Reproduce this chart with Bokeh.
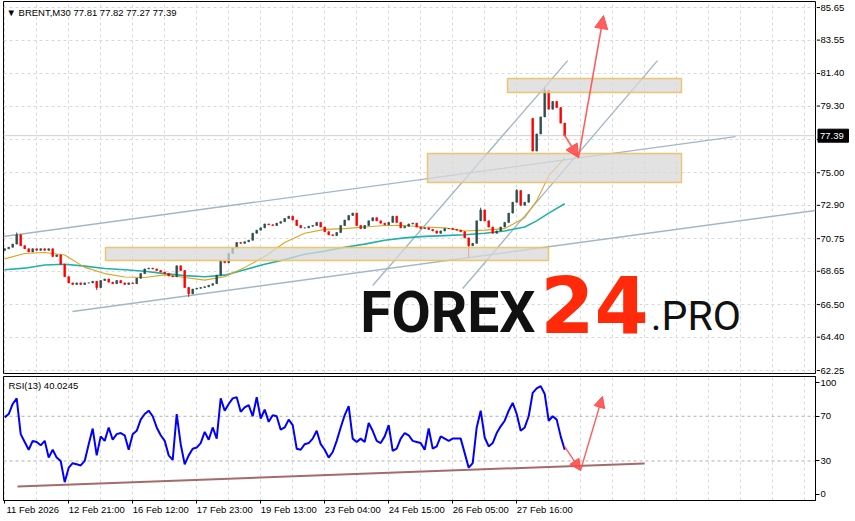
from bokeh.plotting import figure
from bokeh.layouts import column, row
from bokeh.models import (Range1d, FixedTicker, Label, Span, Arrow, NormalHead,
                          ColumnDataSource)
from bokeh.core.properties import value
from bokeh.embed import file_html
from bokeh.resources import INLINE

# ---------------- data ----------------
close = [
    70.1, 70.2, 70.4, 71.0, 70.3, 70.1, 69.9, 70.1, 70.0, 70.1,
    70.0, 70.1, 69.6, 69.7, 69.1, 68.3, 67.9, 67.8, 67.9, 67.8,
    67.9, 67.9, 68.0, 67.6, 68.05, 68.15, 67.95, 67.85, 68.05, 67.9,
    67.8, 67.9, 67.85, 68.2, 68.5, 68.8, 68.85, 68.8, 68.7, 68.6,
    68.5, 68.35, 68.3, 69.0, 68.7, 67.6, 67.2, 67.5, 67.55, 67.6,
    67.65, 67.75, 67.85, 68.4, 69.3, 69.2, 69.8, 70.15, 70.5, 70.45,
    70.55, 70.65, 71.1, 71.3, 71.45, 71.7, 71.65, 71.6, 71.75, 71.85,
    72.05, 72.2, 71.95, 71.6, 71.45, 71.45, 71.55, 71.6, 71.8, 71.5,
    71.2, 71.0, 70.95, 71.15, 71.6, 71.95, 72.25, 72.4, 71.6, 71.4,
    71.6, 71.9, 72.1, 71.9, 71.75, 71.65, 71.8, 72.2, 71.8, 71.45,
    71.55, 71.7, 71.75, 71.5, 71.4, 71.45, 71.35, 71.25, 71.1, 71.25,
    71.4, 71.4, 71.35, 71.3, 71.2, 70.8, 70.3, 70.45, 71.9, 72.6,
    71.9, 71.5, 71.1, 71.25, 71.5, 71.8, 72.4, 73.1, 73.85, 72.9,
    73.1, 73.6, 76.4, 77.5, 78.6, 80.3, 79.1, 79.6, 79.2, 78.2,
    77.39,
]
first_open = 70.0
gap_opens = {132: 78.5}
wick_high = {3: 71.15, 119: 72.75, 128: 73.95, 135: 80.5}
wick_low = {23: 67.45, 46: 67.0, 116: 69.55}

ma_idx = [0, 5, 10, 15, 20, 25, 30, 35, 40, 45, 50, 55, 60, 65, 70, 75, 80,
          85, 90, 95, 100, 105, 110, 115, 120, 125, 130, 133, 136, 140]
ma_fast = [69.45, 69.8, 69.86, 69.7, 68.9, 68.5, 68.28, 68.25, 68.42, 68.25,
           68.08, 68.3, 68.9, 69.6, 70.5, 71.1, 71.35, 71.4, 71.5, 71.6,
           71.6, 71.5, 71.45, 71.25, 71.3, 71.4, 72.1, 73.2, 74.8, 75.95]
ma_slow = [68.75, 68.85, 69.05, 69.1, 68.98, 68.83, 68.75, 68.65, 68.5, 68.37,
           68.3, 68.4, 68.75, 69.1, 69.4, 69.75, 69.95, 70.2, 70.4, 70.65,
           70.8, 70.9, 70.95, 71.0, 71.1, 71.25, 71.5, 71.9, 72.4, 73.0]

rsi = [
    69, 72, 81, 86, 54, 47, 40, 48, 47, 44,
    48, 33, 40, 33, 30, 11, 24, 28, 27, 26,
    30, 45, 59, 35, 52, 48, 60, 49, 54, 55,
    53, 40, 54, 57, 67, 72, 75, 70, 60, 53,
    48, 35, 31, 72, 45, 27, 35, 41, 42, 46,
    56, 49, 60, 50, 86, 75, 81, 86, 87, 74,
    78, 80, 70, 87, 68, 76, 65, 71, 70, 58,
    60, 67, 62, 41, 40, 45, 46, 50, 57, 45,
    40, 33, 38, 48, 60, 71, 79, 50, 47, 50,
    47, 64, 57, 48, 46, 52, 62, 39, 41, 50,
    55, 53, 48, 47, 46, 40, 59, 41, 43, 52,
    50, 48, 50, 50, 50, 37, 24, 28, 60, 75,
    51, 43, 46, 55, 61, 66, 75, 82, 72, 57,
    60, 70, 91, 95, 97, 90, 66, 70, 67, 52,
    40.02,
]

time_idx = [0, 16, 32, 48, 64, 80, 96, 112, 128]
time_labels = ["11 Feb 2026", "12 Feb 21:00", "16 Feb 12:00", "17 Feb 23:00",
               "19 Feb 13:00", "23 Feb 04:00", "24 Feb 15:00", "26 Feb 05:00",
               "27 Feb 16:00"]
grid_idx = list(range(0, 203, 8))
price_ticks = [62.25, 64.40, 66.50, 68.65, 70.75, 72.90, 75.00, 77.15,
               79.30, 81.40, 83.55, 85.65]
rsi_ticks = [0, 30, 70, 100]
rsi_levels = [30, 70]
last_price = 77.39
quote_header = "\u25BC BRENT,M30  77.81 77.82 77.27 77.39"
rsi_header = "RSI(13) 40.0245"

# drawn objects: zones, trend lines, arrows (bar index / price)
zone_left = [125.7, 105.7, 25.2]
zone_right = [169.2, 169.2, 135.95]
zone_bottom = [80.17, 74.37, 69.34]
zone_top = [81.07, 76.24, 70.18]

chan_x0 = [-0.3, 16.95, 92.0, 114.5]
chan_y0 = [70.89, 66.06, 67.73, 67.54]
chan_x1 = [182.7, 202.7, 140.75, 163.2]
chan_y1 = [77.33, 72.57, 82.23, 82.23]

price_arrows = [(139.7, 77.53, 143.45, 75.98), (143.45, 75.98, 149.7, 85.13)]
rsi_trend = (3.2, 7.2, 159.95, 27.8)
rsi_arrows = [(139.95, 43.0, 143.95, 21.5), (143.95, 21.5, 149.45, 87.7)]

# ---------------- derived ----------------
n = len(close)
idx = list(range(n))
opens = [first_open] + close[:-1]
for k, v in gap_opens.items():
    opens[k] = v
body_top = [max(o, c) for o, c in zip(opens, close)]
body_bot = [min(o, c) for o, c in zip(opens, close)]
colors = ["#2F4F4F" if c >= o else "#FF0000" for o, c in zip(opens, close)]
highs = [wick_high.get(i, body_top[i]) for i in idx]
lows = [wick_low.get(i, body_bot[i]) for i in idx]

FONT = "Liberation Sans"
FS = "9.5px"
W = 812
PH = 372                      # price frame height (px)
X0, X1 = -0.3, 202.7
Y0, Y1 = 62.06, 86.04
PX_PER_UNIT = PH / (Y1 - Y0)
RED = "#FF4D4D"
LABEL_SHIFT = 7   # bars from a time tick to the centre of its left-aligned label

# ---------------- price panel ----------------
p = figure(frame_width=W, frame_height=PH, x_range=Range1d(X0, X1),
           y_range=Range1d(Y0, Y1), x_axis_location=None,
           y_axis_location=None, toolbar_location=None, output_backend="svg",
           min_border_left=3, min_border_right=1, min_border_top=1,
           min_border_bottom=3, background_fill_color="white",
           border_fill_color="white")
p.outline_line_color = "black"
p.outline_line_alpha = 1.0
p.xgrid.ticker = FixedTicker(ticks=grid_idx)
p.ygrid.ticker = FixedTicker(ticks=price_ticks)
for g in (p.xgrid, p.ygrid):
    g.grid_line_color = "#D9D9D9"
    g.grid_line_dash = "3 3"

p.add_layout(Span(location=last_price, dimension="width", line_color="#CFCFCF",
                  line_width=1, level="underlay"))

p.segment(x0=chan_x0, y0=chan_y0, x1=chan_x1, y1=chan_y1,
          line_color="#A3B6C5", line_width=1.4)
p.line(ma_idx, ma_slow, line_color="#20B2AA", line_width=1.6)
p.line(ma_idx, ma_fast, line_color="#DAA520", line_width=1.1)

src = ColumnDataSource(dict(x=idx, top=body_top, bottom=body_bot, hi=highs,
                            lo=lows, color=colors))
p.segment(x0="x", y0="lo", x1="x", y1="hi", line_color="color", line_width=1,
          source=src)
p.vbar(x="x", top="top", bottom="bottom", width=0.42, fill_color="color",
       line_color="color", line_width=0.7, source=src)

p.quad(left=zone_left, right=zone_right, bottom=zone_bottom, top=zone_top,
       fill_color="#D8D8D8", fill_alpha=0.75, line_color="#F0C060",
       line_width=1.5, line_alpha=0.9)

for (xs, ys, xe, ye) in price_arrows:
    p.add_layout(Arrow(x_start=xs, y_start=ys, x_end=xe, y_end=ye,
                       line_color=RED, line_width=1.6, line_alpha=0.9,
                       end=NormalHead(size=13, fill_color=RED, line_color=RED,
                                      fill_alpha=0.9)))

# watermark (anchors at the vertical centre of the capitals)
p.add_layout(Label(x=132.7, y=66.02, text="FOREX", text_align="right",
                   text_baseline="alphabetic", text_font="Roboto",
                   text_font_style="bold", text_font_size="57px",
                   text_color="#111111"))
p.add_layout(Label(x=147.45, y=66.57, text="24", text_align="center",
                   text_baseline="alphabetic", text_font="DejaVu Sans",
                   text_font_style="bold", text_font_size="78px",
                   text_color="#FF2A0A"))
p.add_layout(Label(x=161.5, y=65.76, text=".PRO", text_align="left",
                   text_baseline="alphabetic", text_font="Roboto",
                   text_font_size="41px", text_color="#111111"))

p.add_layout(Label(x=X0, y=Y1, x_offset=3, y_offset=-5, text=quote_header,
                   text_align="left", text_baseline="top", text_font=FONT,
                   text_font_size=FS, text_color="black"))

# ---------------- price scale (shares the price scale of the chart) ----------
SW = 39
s = figure(frame_width=SW, frame_height=PH + 3,
           x_range=Range1d(0, SW), y_range=Range1d(Y0 - 3 / PX_PER_UNIT, Y1),
           x_axis_location=None, y_axis_location=None, toolbar_location=None,
           output_backend="svg", min_border_left=0, min_border_right=0,
           min_border_top=1, min_border_bottom=0,
           background_fill_color="white", border_fill_color="white")
s.outline_line_color = None
s.xgrid.grid_line_color = None
s.ygrid.grid_line_color = None
s.segment(x0=[0] * len(price_ticks), y0=price_ticks,
          x1=[3.5] * len(price_ticks), y1=price_ticks,
          line_color="black", line_width=1)
s.text(x=[4] * len(price_ticks), y=price_ticks,
       text=[f"{t:.2f}" for t in price_ticks], text_align="left",
       text_baseline="middle", text_font=value(FONT), text_font_size=value(FS),
       text_color="black")
box_half = 6.5 / PX_PER_UNIT
s.quad(left=[1.5], right=[32], bottom=[last_price - box_half],
       top=[last_price + box_half], fill_color="black", line_color="black")
s.text(x=[3.5], y=[last_price], text=[f"{last_price:.2f}"], text_align="left",
       text_baseline="middle", text_font=value(FONT), text_font_size=value(FS),
       text_color="white")

# ---------------- RSI panel ----------------
q = figure(frame_width=W, frame_height=124, x_range=p.x_range,
           y_range=Range1d(-5.4, 105.6), y_axis_location="right",
           x_axis_location="below", toolbar_location=None, output_backend="svg",
           min_border_left=3, min_border_right=40, min_border_top=0,
           min_border_bottom=20, background_fill_color="white",
           border_fill_color="white")
q.outline_line_color = "black"
q.outline_line_alpha = 1.0
q.yaxis.ticker = FixedTicker(ticks=rsi_ticks)
q.yaxis.major_tick_out = 4
q.yaxis.major_tick_in = 0
q.yaxis.minor_tick_line_color = None
q.yaxis.axis_line_color = "black"
q.yaxis.major_label_standoff = 1
q.yaxis.major_label_text_font = FONT
q.yaxis.major_label_text_font_size = FS
q.yaxis.major_label_text_color = "black"

# time scale: labels start at their tick (MT4 style) -> label centres shifted,
# the tick marks themselves drawn as minor ticks at the true times
label_pos = [t + LABEL_SHIFT for t in time_idx]
q.xaxis.ticker = FixedTicker(ticks=label_pos, minor_ticks=time_idx)
q.xaxis.major_label_overrides = {lp: lab for lp, lab in zip(label_pos, time_labels)}
q.xaxis.major_tick_line_color = None
q.xaxis.major_tick_out = 0
q.xaxis.major_tick_in = 0
q.xaxis.minor_tick_line_color = "black"
q.xaxis.minor_tick_out = 3
q.xaxis.minor_tick_in = 0
q.xaxis.axis_line_color = "black"
q.xaxis.major_label_standoff = 0
q.xaxis.major_label_text_font = FONT
q.xaxis.major_label_text_font_size = FS
q.xaxis.major_label_text_color = "black"

q.xgrid.ticker = FixedTicker(ticks=grid_idx)
q.xgrid.grid_line_color = "#D9D9D9"
q.xgrid.grid_line_dash = "3 3"
q.ygrid.grid_line_color = None
for lv in rsi_levels:
    q.add_layout(Span(location=lv, dimension="width", line_color="#B0B0B0",
                      line_dash="3 3", line_width=1, level="underlay"))

q.segment(x0=[rsi_trend[0]], y0=[rsi_trend[1]], x1=[rsi_trend[2]],
          y1=[rsi_trend[3]], line_color="#8E4646", line_width=2, line_alpha=0.8)
q.line(idx, rsi, line_color="#0000FF", line_width=2)
for (xs, ys, xe, ye) in rsi_arrows:
    q.add_layout(Arrow(x_start=xs, y_start=ys, x_end=xe, y_end=ye,
                       line_color=RED, line_width=1.4, line_alpha=0.9,
                       end=NormalHead(size=11, fill_color=RED, line_color=RED,
                                      fill_alpha=0.9)))
q.add_layout(Label(x=X0, y=105.6, x_offset=5, y_offset=-3, text=rsi_header,
                   text_align="left", text_baseline="top", text_font=FONT,
                   text_font_size=FS, text_color="black"))

layout = column(row(p, s, spacing=0), q, spacing=0)
open("out.html", "w").write(file_html(layout, INLINE))
